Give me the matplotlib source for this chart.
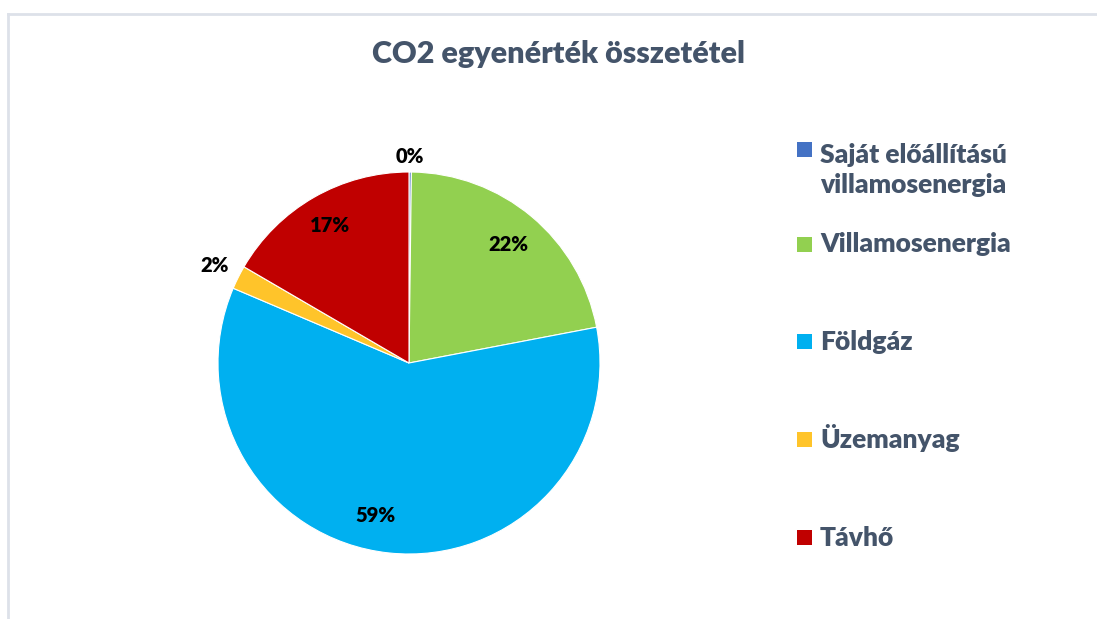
import matplotlib
matplotlib.use("Agg")
import matplotlib.pyplot as plt
from matplotlib.patches import Rectangle
from matplotlib.lines import Line2D
import numpy as np

# data
categories = ["Saját előállítású\nvillamosenergia", "Villamosenergia", "Földgáz", "Üzemanyag", "Távhő"]
shares = [0.2, 21.8, 59.4, 2.0, 16.6]
pct_labels = ["0%", "22%", "59%", "2%", "17%"]
colors = ["#4472C4", "#92D050", "#00B0F0", "#FFC42A", "#C00000"]

# label placement (fraction of radius, extra angle in degrees)
label_dist = [1.08, 0.81, 0.82, 1.14, 0.83]
label_shift = [0, 0, -6.3, 0, 0]

W, H = 1097, 619
plt.rcParams["font.family"] = ["Lato", "DejaVu Sans"]
text_col = "#44546A"

fig = plt.figure(figsize=(W / 100, H / 100), dpi=100)
fig.patch.set_facecolor("white")

# chart area border (only top and left are visible in the crop)
border = "#DDE1E9"
fig.add_artist(Line2D([8 / W, 1], [1 - 14 / H, 1 - 14 / H], color=border, lw=2))
fig.add_artist(Line2D([8 / W, 8 / W], [0, 1 - 14 / H], color=border, lw=2))

cx, cy, r = 409, 363, 191
ax = fig.add_axes([(cx - r) / W, (H - cy - r) / H, 2 * r / W, 2 * r / H])
wedges, _ = ax.pie(shares, colors=colors, startangle=90, counterclock=False,
                   radius=1, wedgeprops=dict(edgecolor="white", linewidth=0.8))
ax.set_xlim(-1, 1)
ax.set_ylim(-1, 1)
ax.set_aspect("equal")
ax.axis("off")

for w, lab, d, sh in zip(wedges, pct_labels, label_dist, label_shift):
    ang = np.deg2rad((w.theta1 + w.theta2) / 2 + sh)
    ax.text(d * np.cos(ang), d * np.sin(ang), lab, ha="center", va="center",
            fontsize=14.5, fontweight="heavy", color="black", clip_on=False)

fig.text(559 / W, 1 - 63 / H, "CO2 egyenérték összetétel", ha="center", va="baseline",
         fontsize=22, fontweight="heavy", color=text_col)

# legend, drawn by hand to keep Excel's spacing
leg_y = [149, 244, 341, 439, 537]
line_gap = 35.5
for name, col, y in zip(categories, colors, leg_y):
    fig.add_artist(Rectangle((797 / W, 1 - (y + 7.5) / H), 15 / W, 15 / H,
                             facecolor=col, edgecolor="none", transform=fig.transFigure))
    # baseline of multi-line text is the last line's, so push it down
    extra = (name.count("\n")) * line_gap
    fig.text(820 / W, 1 - (y + 8.5 + extra) / H, name, ha="left", va="baseline",
             fontsize=19, fontweight="heavy", color=text_col, linespacing=1.3)

fig.savefig("out.png", dpi=100)
